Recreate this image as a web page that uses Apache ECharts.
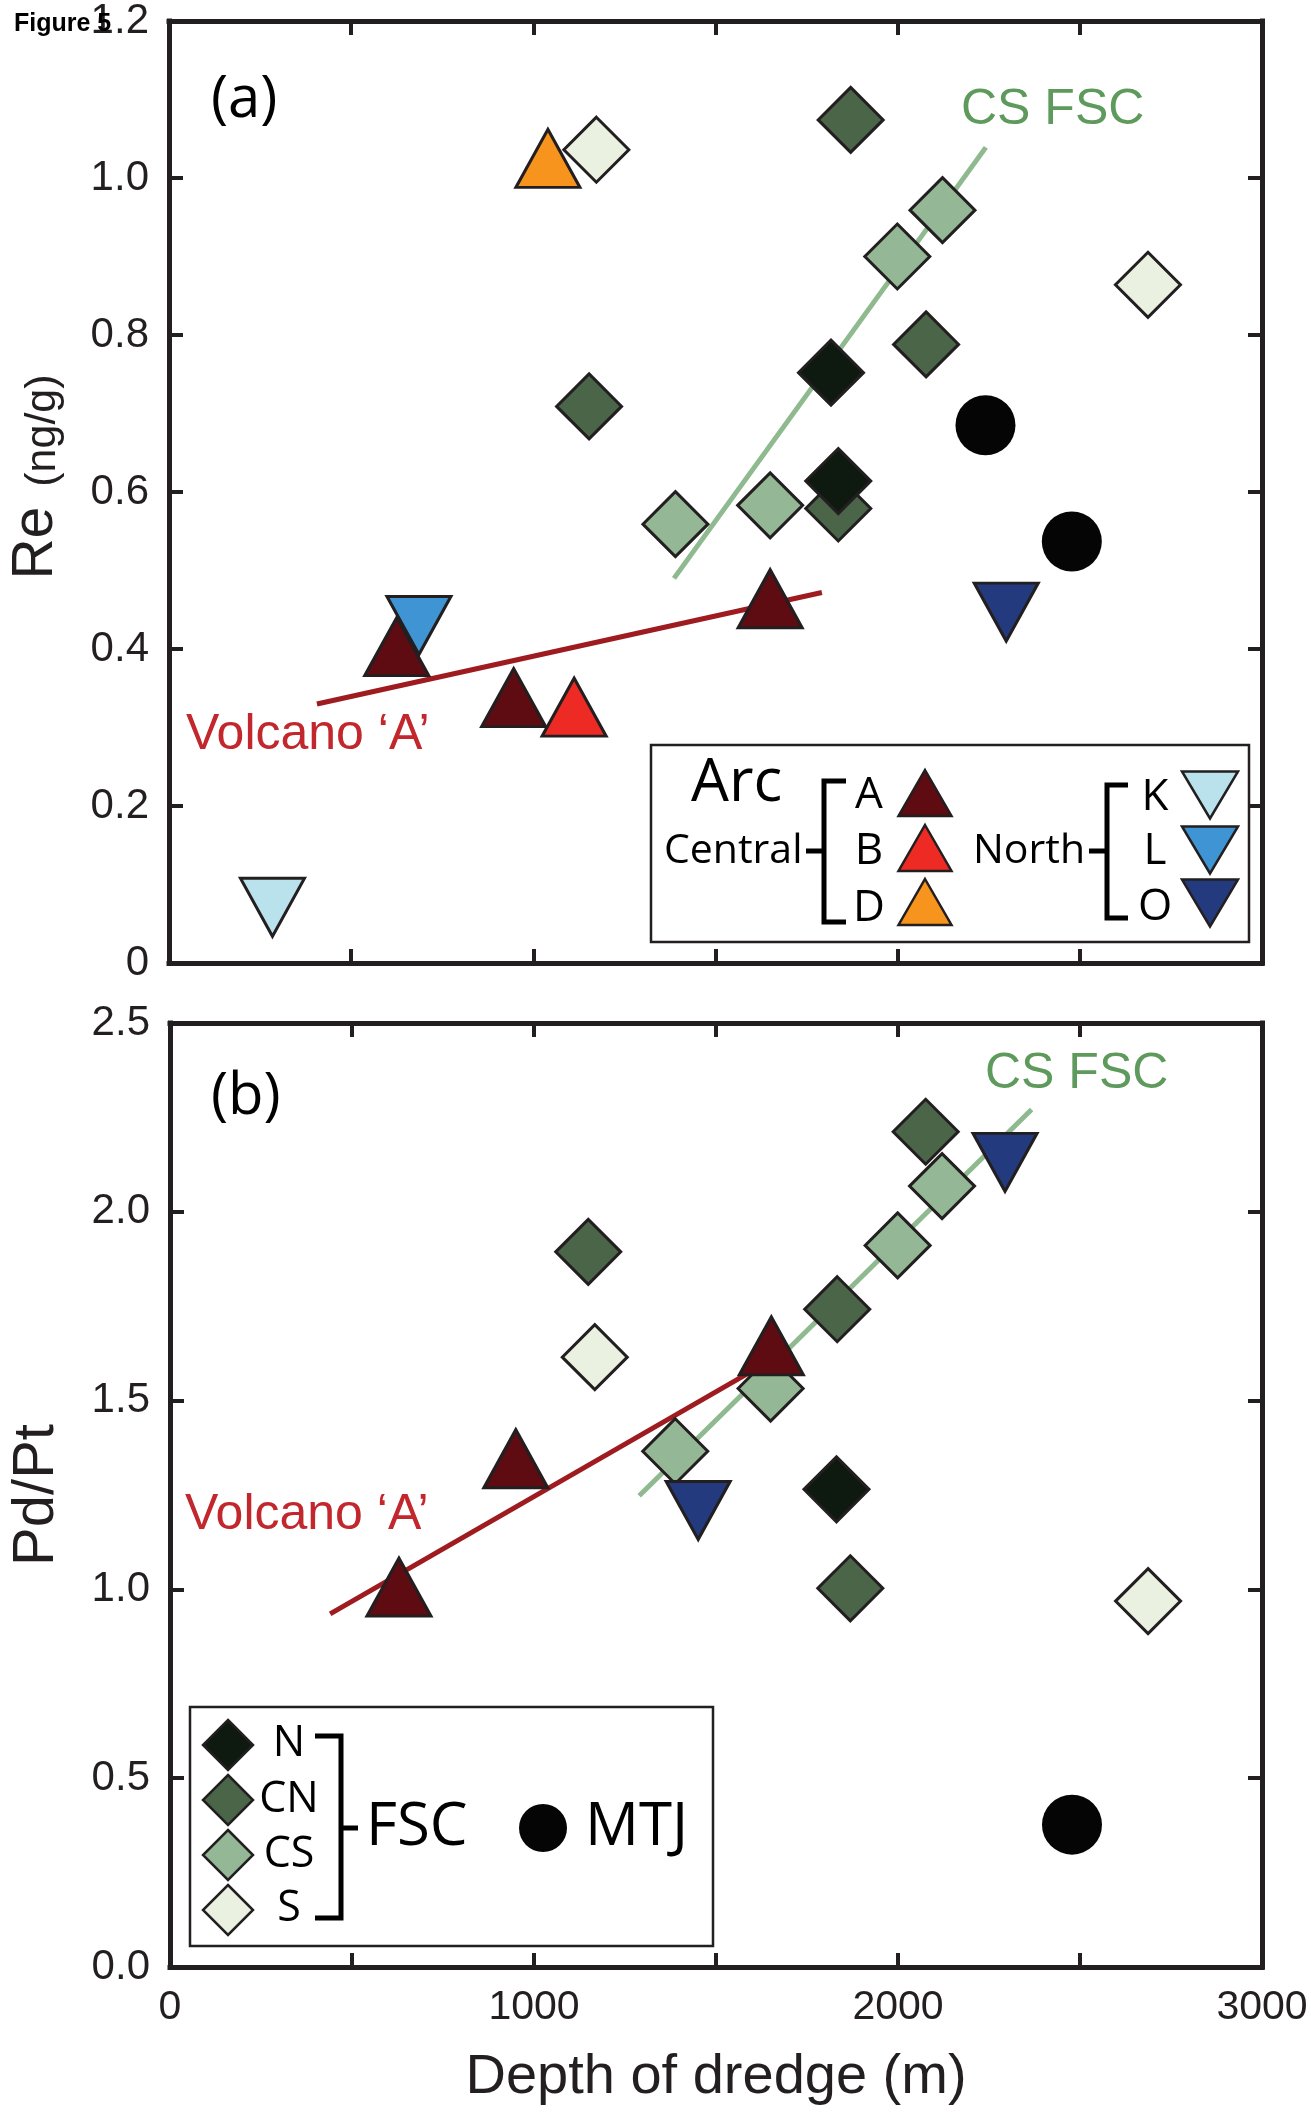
<!DOCTYPE html>
<html>
<head>
<meta charset="utf-8">
<title>Figure 5</title>
<script src="https://cdn.jsdelivr.net/npm/echarts@6/dist/echarts.min.js"></script>
<style>
  html, body { margin: 0; padding: 0; background: #ffffff; }
  #chart { width: 1311px; height: 2112px; }
</style>
</head>
<body>
<div id="chart"></div>
<script>
// ---------- data: depth of dredge (m) vs Re (ng/g), panel (a) ----------
const reArcA   = [[625, 0.403], [946, 0.338], [1650, 0.464]];
const reArcB   = [[1112, 0.326]];
const reArcD   = [[1040, 1.025]];
const reNorthK = [[284, 0.071]];
const reNorthL = [[686, 0.430]];
const reNorthO = [[2298, 0.447]];
const reFscN   = [[1817, 0.752], [1837, 0.614]];
const reFscCN  = [[1871, 1.074], [2078, 0.788], [1153, 0.709], [1837, 0.579]];
const reFscCS  = [[2123, 0.959], [1999, 0.900], [1650, 0.583], [1390, 0.559]];
const reFscS   = [[1173, 1.036], [2687, 0.864]];
const reMTJ    = [[2241, 0.685], [2478, 0.537]];
const reFitVolcanoA = [[406, 0.330], [1792, 0.472]];
const reFitCSFSC    = [[1386, 0.490], [2242, 1.039]];

// ---------- data: depth of dredge (m) vs Pd/Pt, panel (b) ----------
const pdArcA   = [[629, 1.006], [950, 1.346], [1652, 1.645]];
const pdNorthO = [[1451, 1.209], [2294, 2.131]];
const pdFscN   = [[1831, 1.265]];
const pdFscCN  = [[1149, 1.894], [2076, 2.212], [1833, 1.742], [1869, 1.003]];
const pdFscCS  = [[2121, 2.068], [1999, 1.911], [1650, 1.532], [1388, 1.366]];
const pdFscS   = [[1167, 1.615], [2687, 0.969]];
const pdMTJ    = [[2478, 0.377]];
const pdFitVolcanoA = [[440, 0.935], [1620, 1.590]];
const pdFitCSFSC    = [[1289, 1.248], [2367, 2.271]];

// ---------- axis ticks ----------
const depthLabelValues = [0, 1000, 2000, 3000];
const depthTickStep = 500;
const reTickStep = 0.2;
const pdTickStep = 0.5;

// ---------- styling ----------
const INK = '#231f20';
const FONT_AXIS = '"Liberation Sans", Arial, Helvetica, sans-serif';
const FONT_KEY = '"Open Sans", "Noto Sans", sans-serif';
const FILL = {
  A: '#5e0b11', B: '#ee2a24', D: '#f7941d',
  K: '#b9e2ed', L: '#3f95d3', O: '#233b7e',
  N: '#0e1a10', CN: '#4b6549', CS: '#94b895', S: '#eaf1e1',
  MTJ: '#050505'
};
const VOLCANO_LINE = '#9e1b20';
const VOLCANO_TEXT = '#c1272d';
const CSFSC_LINE = '#8fb98f';
const CSFSC_TEXT = '#5f9a5d';

const TRI = [64, 58];
const DIA = [65, 65];
const DOT = 60;

function markers(name, xi, yi, data, symbol, size, fill, rotate, z) {
  return {
    name, type: 'scatter', xAxisIndex: xi, yAxisIndex: yi, data,
    symbol, symbolSize: size, symbolRotate: rotate || 0,
    z: z || 3, silent: true,
    itemStyle: symbol === 'circle'
      ? { color: fill, opacity: 1 }
      : { color: fill, borderColor: INK, borderWidth: 3, opacity: 1 }
  };
}

function fitLine(name, xi, yi, data, color) {
  return {
    name, type: 'line', xAxisIndex: xi, yAxisIndex: yi, data,
    showSymbol: false, symbol: 'none', z: 2, silent: true,
    lineStyle: { color, width: 5, cap: 'butt' }
  };
}

function depthAxis(gridIndex, position, labelled) {
  return {
    type: 'value', gridIndex, position, min: 0, max: 3000, interval: depthTickStep,
    axisLine: { show: true, onZero: false, lineStyle: { color: INK, width: 5, cap: 'square' } },
    axisTick: { show: true, inside: true, length: 14, lineStyle: { color: INK, width: 4 } },
    splitLine: { show: false },
    axisLabel: {
      show: labelled, margin: 20, fontSize: 41, fontFamily: FONT_AXIS, color: INK,
      showMinLabel: true, showMaxLabel: true,
      formatter: v => depthLabelValues.includes(v) ? String(v) : ''
    },
    name: labelled ? 'Depth of dredge (m)' : '',
    nameLocation: 'middle', nameGap: 83,
    nameTextStyle: { fontSize: 56, fontFamily: FONT_AXIS, color: INK }
  };
}

function valueAxis(gridIndex, position, max, step, labelled, fmt, name, nameStyle, nameGap) {
  return {
    type: 'value', gridIndex, position, min: 0, max, interval: step,
    axisLine: { show: true, onZero: false, lineStyle: { color: INK, width: 5, cap: 'square' } },
    axisTick: { show: true, inside: true, length: 14, lineStyle: { color: INK, width: 4 } },
    splitLine: { show: false },
    axisLabel: {
      show: labelled, margin: 20, fontSize: 42, fontFamily: FONT_AXIS, color: INK,
      showMinLabel: true, showMaxLabel: true, formatter: fmt
    },
    name: name || '', nameLocation: 'middle', nameRotate: 90, nameGap: nameGap || 100,
    nameTextStyle: nameStyle || {}
  };
}

// ---------- custom key shapes ----------
function triUp(cx, cy, w, h, fill) {
  return { type: 'polygon', shape: { points: [[cx, cy - h / 2], [cx + w / 2, cy + h / 2], [cx - w / 2, cy + h / 2]] },
           style: { fill, stroke: INK, lineWidth: 2.5 } };
}
function triDown(cx, cy, w, h, fill) {
  return { type: 'polygon', shape: { points: [[cx - w / 2, cy - h / 2], [cx + w / 2, cy - h / 2], [cx, cy + h / 2]] },
           style: { fill, stroke: INK, lineWidth: 2.5 } };
}
function diamond(cx, cy, w, h, fill) {
  return { type: 'polygon', shape: { points: [[cx, cy - h / 2], [cx + w / 2, cy], [cx, cy + h / 2], [cx - w / 2, cy]] },
           style: { fill, stroke: INK, lineWidth: 2.5 } };
}
function label(text, x, y, size, opts) {
  const o = opts || {};
  return {
    type: 'text', x, y, z: 10,
    style: {
      text, fill: o.color || '#000', fontSize: size, fontFamily: o.family || FONT_KEY,
      fontWeight: o.weight || 'normal',
      align: o.align || 'left', verticalAlign: 'middle',
      textAlign: o.align || 'left', textVerticalAlign: 'middle'
    }
  };
}
function stroke(points, width) {
  return { type: 'polyline', shape: { points }, style: { stroke: '#000', lineWidth: width || 5, fill: null } };
}

const keyA = [
  { type: 'rect', shape: { x: 651, y: 745, width: 598, height: 197 }, style: { fill: '#fff', stroke: INK, lineWidth: 2.5 } },
  label('Arc', 691, 784, 60),
  label('Central', 664, 851, 41),
  stroke([[806, 851], [824, 851]]),
  stroke([[846, 781], [824, 781], [824, 922], [846, 922]]),
  label('A', 869, 795, 44, { align: 'center' }),
  label('B', 869, 851, 44, { align: 'center' }),
  label('D', 869, 908, 44, { align: 'center' }),
  triUp(925, 793, 53, 46, FILL.A),
  triUp(925, 848, 53, 46, FILL.B),
  triUp(925, 902, 53, 46, FILL.D),
  label('North', 973, 851, 41),
  stroke([[1089, 851], [1107, 851]]),
  stroke([[1128, 785], [1107, 785], [1107, 918], [1128, 918]]),
  label('K', 1155, 797, 44, { align: 'center' }),
  label('L', 1155, 851, 44, { align: 'center' }),
  label('O', 1155, 907, 44, { align: 'center' }),
  triDown(1210, 795, 56, 47, FILL.K),
  triDown(1210, 850, 56, 47, FILL.L),
  triDown(1210, 903, 56, 47, FILL.O)
];

const keyB = [
  { type: 'rect', shape: { x: 190, y: 1707, width: 523, height: 239 }, style: { fill: '#fff', stroke: INK, lineWidth: 2.5 } },
  diamond(228, 1745, 50, 50, FILL.N),
  diamond(228, 1800, 50, 50, FILL.CN),
  diamond(228, 1855, 50, 50, FILL.CS),
  diamond(228, 1910, 50, 50, FILL.S),
  label('N', 289, 1744, 43, { align: 'center' }),
  label('CN', 289, 1800, 43, { align: 'center' }),
  label('CS', 289, 1855, 43, { align: 'center' }),
  label('S', 289, 1909, 43, { align: 'center' }),
  stroke([[315, 1736], [341, 1736], [341, 1918], [315, 1918]]),
  stroke([[341, 1828], [358, 1828]]),
  label('FSC', 366, 1828, 60),
  { type: 'circle', shape: { cx: 543, cy: 1828, r: 24 }, style: { fill: FILL.MTJ } },
  label('MTJ', 585, 1828, 60)
];

const notes = [
  label('Figure 5', 14, 24, 25, { family: FONT_AXIS, weight: 'bold' }),
  label('(a)', 211, 100, 58),
  label('(b)', 211, 1097, 58),
  label('CS FSC', 961, 110, 50, { family: FONT_AXIS, color: CSFSC_TEXT }),
  label('CS FSC', 985, 1074, 50, { family: FONT_AXIS, color: CSFSC_TEXT }),
  label('Volcano \u2018A\u2019', 186, 735, 50, { family: FONT_AXIS, color: VOLCANO_TEXT }),
  label('Volcano \u2018A\u2019', 185, 1515, 50, { family: FONT_AXIS, color: VOLCANO_TEXT })
];

const reTitleStyle = {
  color: INK, padding: [0, 0, 0, 30],
  rich: {
    big: { fontSize: 57, fontFamily: FONT_AXIS, color: INK, verticalAlign: 'bottom', lineHeight: 56 },
    small: { fontSize: 43, fontFamily: FONT_AXIS, color: INK, verticalAlign: 'bottom', lineHeight: 45, padding: [0, 0, 0, 20] }
  }
};
const pdTitleStyle = { fontSize: 58, fontFamily: FONT_AXIS, color: INK };

const option = {
  backgroundColor: '#ffffff',
  animation: false,
  grid: [
    { left: 167, top: 21, width: 1095, height: 942, containLabel: false },
    { left: 167, top: 1023, width: 1095, height: 944, containLabel: false }
  ],
  xAxis: [
    depthAxis(0, 'bottom', false),
    depthAxis(0, 'top', false),
    depthAxis(1, 'bottom', true),
    depthAxis(1, 'top', false)
  ],
  yAxis: [
    valueAxis(0, 'left', 1.2, reTickStep, true, v => v === 0 ? '0' : v.toFixed(1),
              '{big|Re}{small|(ng/g)}', reTitleStyle, 104),
    valueAxis(0, 'right', 1.2, reTickStep, false),
    valueAxis(1, 'left', 2.5, pdTickStep, true, v => v.toFixed(1), 'Pd/Pt', pdTitleStyle, 104),
    valueAxis(1, 'right', 2.5, pdTickStep, false)
  ],
  graphic: { elements: [...notes, ...keyA, ...keyB] },
  series: [
    // panel (a): Re
    fitLine('Volcano A fit (Re)', 0, 0, reFitVolcanoA, VOLCANO_LINE),
    fitLine('CS FSC fit (Re)', 0, 0, reFitCSFSC, CSFSC_LINE),
    markers('CS', 0, 0, reFscCS, 'diamond', DIA, FILL.CS),
    markers('S', 0, 0, reFscS, 'diamond', DIA, FILL.S),
    markers('CN', 0, 0, reFscCN, 'diamond', DIA, FILL.CN),
    markers('N', 0, 0, reFscN, 'diamond', DIA, FILL.N, 0, 4),
    markers('A', 0, 0, reArcA, 'triangle', TRI, FILL.A, 0, 5),
    markers('B', 0, 0, reArcB, 'triangle', TRI, FILL.B, 0, 5),
    markers('D', 0, 0, reArcD, 'triangle', TRI, FILL.D, 0, 5),
    markers('K', 0, 0, reNorthK, 'triangle', TRI, FILL.K, 180, 6),
    markers('L', 0, 0, reNorthL, 'triangle', TRI, FILL.L, 180, 6),
    markers('O', 0, 0, reNorthO, 'triangle', TRI, FILL.O, 180, 6),
    markers('MTJ', 0, 0, reMTJ, 'circle', DOT, FILL.MTJ, 0, 6),
    // panel (b): Pd/Pt
    fitLine('Volcano A fit (Pd/Pt)', 2, 2, pdFitVolcanoA, VOLCANO_LINE),
    fitLine('CS FSC fit (Pd/Pt)', 2, 2, pdFitCSFSC, CSFSC_LINE),
    markers('CS', 2, 2, pdFscCS, 'diamond', DIA, FILL.CS),
    markers('S', 2, 2, pdFscS, 'diamond', DIA, FILL.S),
    markers('CN', 2, 2, pdFscCN, 'diamond', DIA, FILL.CN),
    markers('N', 2, 2, pdFscN, 'diamond', DIA, FILL.N, 0, 4),
    markers('A', 2, 2, pdArcA, 'triangle', TRI, FILL.A, 0, 5),
    markers('O', 2, 2, pdNorthO, 'triangle', TRI, FILL.O, 180, 6),
    markers('MTJ', 2, 2, pdMTJ, 'circle', DOT, FILL.MTJ, 0, 6)
  ]
};

const chart = echarts.init(document.getElementById('chart'), null, { renderer: 'canvas' });
chart.setOption(option);
</script>
</body>
</html>
